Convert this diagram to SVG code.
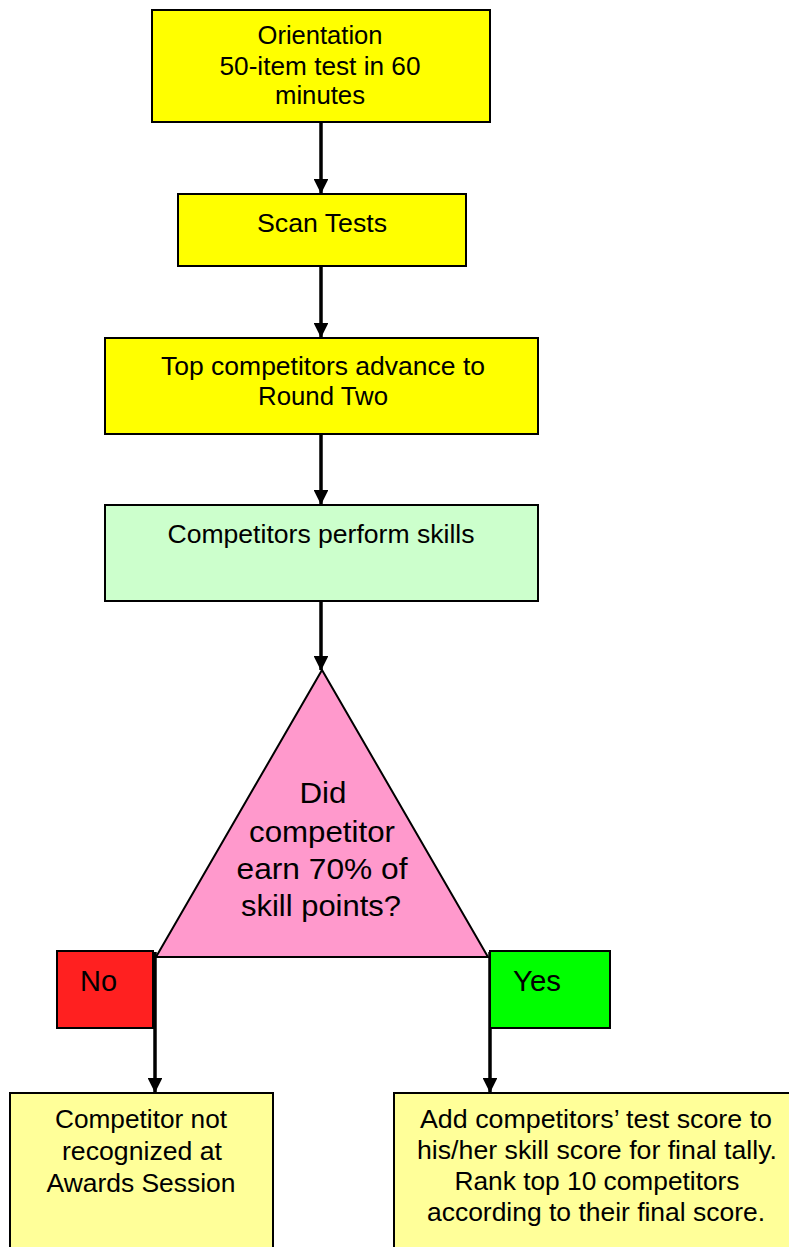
<svg xmlns="http://www.w3.org/2000/svg" width="789" height="1247" viewBox="0 0 789 1247">
<style>
.box{stroke:#000;stroke-width:2}
.t{font-family:"Liberation Sans",Arial,sans-serif;font-size:25px;fill:#000;text-anchor:middle}
.tb{font-family:"Liberation Sans",Arial,sans-serif;font-size:30px;fill:#000;text-anchor:middle}
.lbl{font-family:"Liberation Sans",Arial,sans-serif;font-size:29px;fill:#000}
.c{stroke:#000;stroke-width:3.5;fill:none}
</style>
<defs>
<marker id="ah" markerWidth="4.2" markerHeight="4.2" refX="4" refY="2.1" orient="auto" markerUnits="strokeWidth">
<path d="M0,0 L4.2,2.1 L0,4.2 Z" fill="#000"/>
</marker>
</defs>
<rect width="789" height="1247" fill="#fff"/>
<g id="connectors">
<line class="c" x1="321" y1="122" x2="321" y2="193" marker-end="url(#ah)"/>
<line class="c" x1="321" y1="266" x2="321" y2="337" marker-end="url(#ah)"/>
<line class="c" x1="321" y1="434" x2="321" y2="504" marker-end="url(#ah)"/>
<line class="c" x1="321" y1="601" x2="321" y2="670" marker-end="url(#ah)"/>
<line class="c" x1="155" y1="952" x2="155" y2="1092" marker-end="url(#ah)"/>
<line class="c" x1="490" y1="952" x2="490" y2="1092" marker-end="url(#ah)"/>
</g>
<g id="orientation">
<rect class="box" x="152" y="10" width="338" height="112" fill="#ffff00"/>
<text class="t" x="320" y="44" textLength="125" lengthAdjust="spacingAndGlyphs">Orientation</text>
<text class="t" x="320" y="75" textLength="201" lengthAdjust="spacingAndGlyphs">50-item test in 60</text>
<text class="t" x="320" y="104" textLength="90" lengthAdjust="spacingAndGlyphs">minutes</text>
</g>
<g id="scan">
<rect class="box" x="178" y="194" width="288" height="72" fill="#ffff00"/>
<text class="t" x="322" y="232" textLength="130" lengthAdjust="spacingAndGlyphs">Scan Tests</text>
</g>
<g id="advance">
<rect class="box" x="105" y="338" width="433" height="96" fill="#ffff00"/>
<text class="t" x="323" y="375" textLength="324" lengthAdjust="spacingAndGlyphs">Top competitors advance to</text>
<text class="t" x="323" y="405" textLength="130" lengthAdjust="spacingAndGlyphs">Round Two</text>
</g>
<g id="perform">
<rect class="box" x="105" y="505" width="433" height="96" fill="#ccffcc"/>
<text class="t" x="321" y="543" textLength="307" lengthAdjust="spacingAndGlyphs">Competitors perform skills</text>
</g>
<g id="decision">
<polygon points="322,670 156,957 488,957" fill="#ff99cc" stroke="#000" stroke-width="2" stroke-linejoin="miter"/>
<text class="tb" x="323" y="803" textLength="47" lengthAdjust="spacingAndGlyphs">Did</text>
<text class="tb" x="322" y="842" textLength="146" lengthAdjust="spacingAndGlyphs">competitor</text>
<text class="tb" x="322" y="879" textLength="171" lengthAdjust="spacingAndGlyphs">earn 70% of</text>
<text class="tb" x="321" y="916" textLength="160" lengthAdjust="spacingAndGlyphs">skill points?</text>
</g>
<g id="no">
<rect class="box" x="57" y="951" width="96" height="77" fill="#ff2020"/>
<text class="lbl" x="80" y="991" textLength="37" lengthAdjust="spacingAndGlyphs">No</text>
</g>
<g id="yes">
<rect class="box" x="490" y="951" width="120" height="77" fill="#00ff00"/>
<text class="lbl" x="513" y="991" textLength="48" lengthAdjust="spacingAndGlyphs">Yes</text>
</g>
<g id="not-recognized">
<rect class="box" x="10" y="1093" width="263" height="170" fill="#ffff99"/>
<text class="t" x="141" y="1128" textLength="172" lengthAdjust="spacingAndGlyphs">Competitor not</text>
<text class="t" x="142" y="1160" textLength="160" lengthAdjust="spacingAndGlyphs">recognized at</text>
<text class="t" x="141" y="1192" textLength="189" lengthAdjust="spacingAndGlyphs">Awards Session</text>
</g>
<g id="final-tally">
<rect class="box" x="394" y="1093" width="420" height="170" fill="#ffff99"/>
<text class="t" x="596" y="1128" textLength="352" lengthAdjust="spacingAndGlyphs">Add competitors’ test score to</text>
<text class="t" x="597" y="1159" textLength="360" lengthAdjust="spacingAndGlyphs">his/her skill score for final tally.</text>
<text class="t" x="597" y="1190" textLength="285" lengthAdjust="spacingAndGlyphs">Rank top 10 competitors</text>
<text class="t" x="596" y="1221" textLength="338" lengthAdjust="spacingAndGlyphs">according to their final score.</text>
</g>
</svg>
